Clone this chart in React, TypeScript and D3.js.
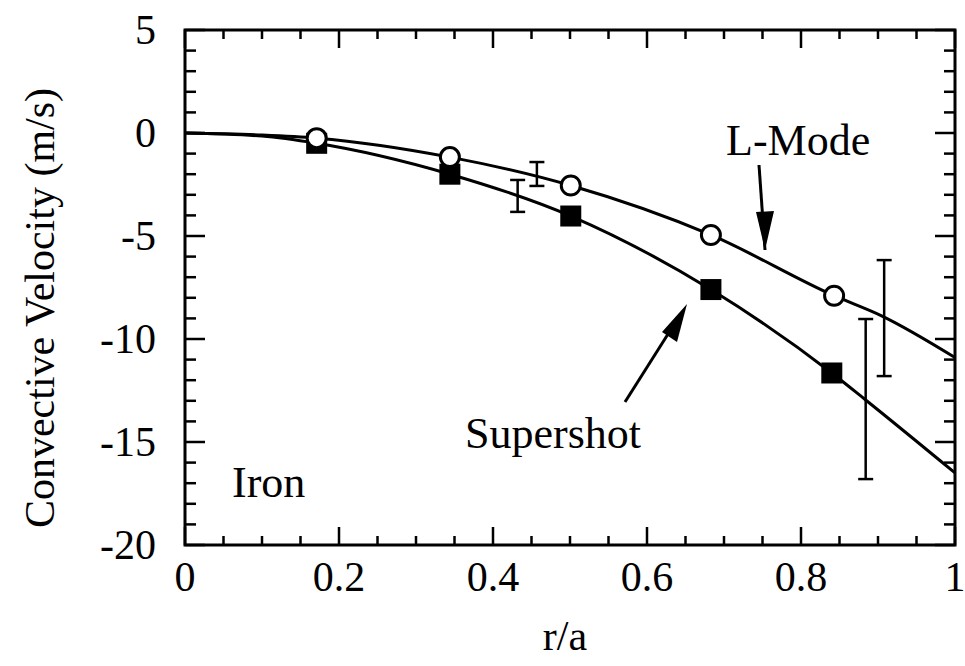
import React from "react";
import * as d3 from "d3";

const lModeX = [0.171, 0.344, 0.501, 0.683, 0.843];
const lModeY = [-0.25, -1.17, -2.55, -4.95, -7.9];
const superX = [0.171, 0.344, 0.501, 0.683, 0.84];
const superY = [-0.5, -2.0, -4.03, -7.6, -11.65];

const lModeCurveX = [0, 0.1, 0.171, 0.344, 0.501, 0.683, 0.843, 0.906, 1];
const lModeCurveY = [0, -0.1, -0.25, -1.17, -2.55, -4.95, -7.9, -8.9, -10.9];
const superCurveX = [0, 0.1, 0.171, 0.344, 0.501, 0.683, 0.84, 0.884, 1];
const superCurveY = [0, -0.15, -0.5, -2.0, -4.03, -7.6, -11.65, -12.96, -16.5];

const errX = [0.432, 0.457, 0.908, 0.884];
const errLow = [-3.83, -2.57, -11.8, -16.8];
const errHigh = [-2.28, -1.41, -6.17, -9.03];

const xMajor = [0, 0.2, 0.4, 0.6, 0.8, 1];
const xMajorLabels = ["0", "0.2", "0.4", "0.6", "0.8", "1"];
const yMajor = [5, 0, -5, -10, -15, -20];
const yMajorLabels = ["5", "0", "-5", "-10", "-15", "-20"];

const W = 965;
const H = 666;
const FONT = "Liberation Serif";

export default function App() {
  const x = d3.scaleLinear().domain([0, 1]).range([185, 955]);
  const y = d3.scaleLinear().domain([-20, 5]).range([545, 30]);

  const xMinor = d3.range(0, 1.0001, 0.05).map((v) => +v.toFixed(2));
  const yMinor = d3.range(-20, 5.0001, 1);

  const line = d3
    .line<[number, number]>()
    .x((d) => x(d[0]))
    .y((d) => y(d[1]))
    .curve(d3.curveMonotoneX);

  const lPts = lModeCurveX.map((v, i) => [v, lModeCurveY[i]] as [number, number]);
  const sPts = superCurveX.map((v, i) => [v, superCurveY[i]] as [number, number]);

  const isMajorX = (v: number) => Math.abs(v * 5 - Math.round(v * 5)) < 1e-6;
  const isMajorY = (v: number) => Math.abs(v % 5) < 1e-6;

  const stroke = "#000";
  const [x0, x1] = x.range();
  const [y0, y1] = [y(5), y(-20)];

  return (
    <svg width={W} height={H} style={{ position: "absolute", left: 0, top: 0 }}>
      <g fontFamily={FONT}>
        {/* tick labels */}
        {xMajor.map((v, i) => (
          <text key={"xl" + v} x={x(v)} y={591} textAnchor="middle" fontSize={42} fontFamily={FONT}>
            {xMajorLabels[i]}
          </text>
        ))}
        {yMajor.map((v, i) => (
          <text key={"yl" + v} x={156} y={y(v) + 14} textAnchor="end" fontSize={42} fontFamily={FONT}>
            {yMajorLabels[i]}
          </text>
        ))}
        <text x={565} y={650} textAnchor="middle" fontSize={42} fontFamily={FONT}>
          r/a
        </text>
        <text transform="translate(54, 308) rotate(-90)" textAnchor="middle" fontSize={42} fontFamily={FONT}>
          Convective Velocity (m/s)
        </text>
        <text x={726} y={155} fontSize={44} fontFamily={FONT}>
          L-Mode
        </text>
        <text x={465} y={448} fontSize={44} fontFamily={FONT}>
          Supershot
        </text>
        <text x={232} y={497} fontSize={44} fontFamily={FONT}>
          Iron
        </text>
      </g>

      {/* ticks */}
      {xMinor.map((v) => {
        const len = isMajorX(v) ? 18 : 9;
        return (
          <g key={"xt" + v}>
            <line x1={x(v)} x2={x(v)} y1={y1} y2={y1 - len} stroke={stroke} strokeWidth={2.5} />
            <line x1={x(v)} x2={x(v)} y1={y0} y2={y0 + len} stroke={stroke} strokeWidth={2.5} />
          </g>
        );
      })}
      {yMinor.map((v) => {
        const len = isMajorY(v) ? 20 : 11;
        return (
          <g key={"yt" + v}>
            <line x1={x0} x2={x0 + len} y1={y(v)} y2={y(v)} stroke={stroke} strokeWidth={2.5} />
            <line x1={x1} x2={x1 - len} y1={y(v)} y2={y(v)} stroke={stroke} strokeWidth={2.5} />
          </g>
        );
      })}

      {/* frame */}
      <rect x={x0} y={y0} width={x1 - x0} height={y1 - y0} fill="none" stroke={stroke} strokeWidth={3} />

      {/* curves */}
      <path d={line(lPts) || ""} fill="none" stroke={stroke} strokeWidth={3} />
      <path d={line(sPts) || ""} fill="none" stroke={stroke} strokeWidth={3} />

      {/* error bars */}
      {errX.map((v, i) => (
        <g key={"eb" + i} stroke={stroke} strokeWidth={2.5}>
          <line x1={x(v)} x2={x(v)} y1={y(errLow[i])} y2={y(errHigh[i])} />
          <line x1={x(v) - 7.5} x2={x(v) + 7.5} y1={y(errLow[i])} y2={y(errLow[i])} />
          <line x1={x(v) - 7.5} x2={x(v) + 7.5} y1={y(errHigh[i])} y2={y(errHigh[i])} />
        </g>
      ))}

      {/* supershot squares */}
      {superX.map((v, i) => (
        <rect key={"sq" + i} x={x(v) - 10.5} y={y(superY[i]) - 10.5} width={21} height={21} fill="#000" />
      ))}
      {/* L-mode circles */}
      {lModeX.map((v, i) => (
        <circle key={"c" + i} cx={x(v)} cy={y(lModeY[i])} r={9.5} fill="#fff" stroke={stroke} strokeWidth={3} />
      ))}

      {/* arrows */}
      <line x1={759} y1={165} x2={765} y2={250} stroke={stroke} strokeWidth={3} />
      <path d="M756,212 L774,211 L765,250 z" fill="#000" />
      <line x1={625} y1={402} x2={675} y2={323} stroke={stroke} strokeWidth={3} />
      <path d="M687,304 L677,342 L662,332 z" fill="#000" />
    </svg>
  );
}
